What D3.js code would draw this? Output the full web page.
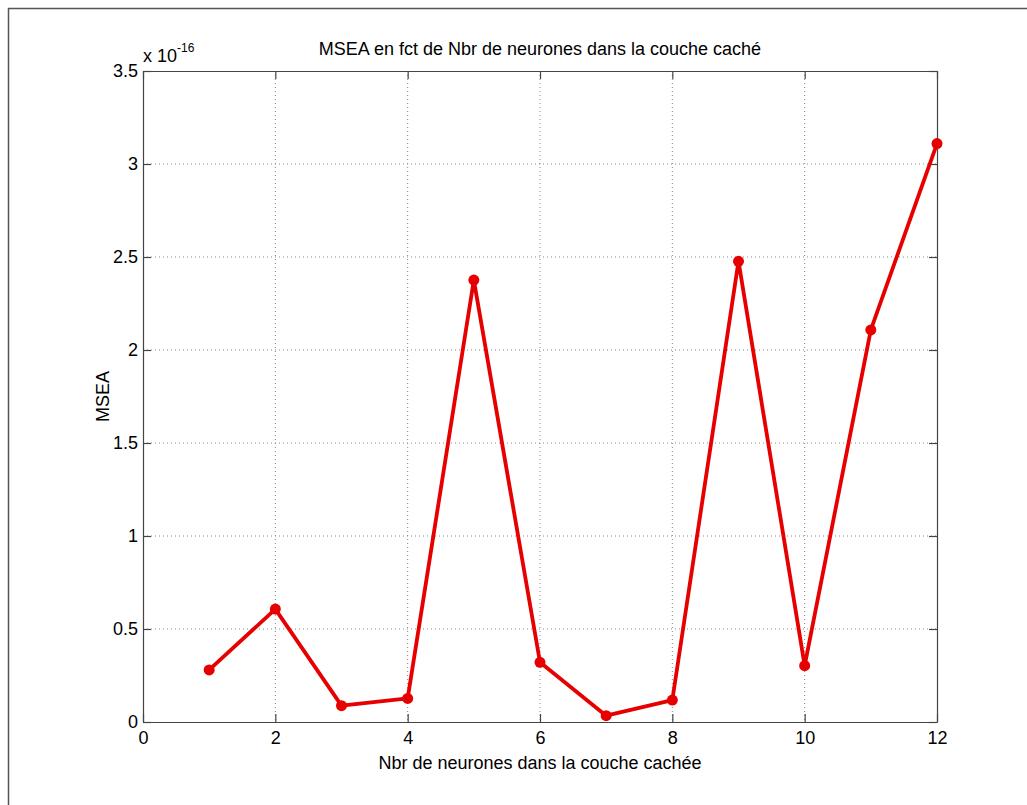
<!DOCTYPE html>
<html>
<head>
<meta charset="utf-8">
<script src="https://cdn.jsdelivr.net/npm/d3@7"></script>
<style>
  html, body { margin: 0; padding: 0; background: #fff; }
  svg { display: block; font-family: Arial, "Liberation Sans", sans-serif; }
</style>
</head>
<body>
<div id="chart"></div>
<script>
// neurones in hidden layer vs MSEA (values in units of 1e-16)
const neurons = [1, 2, 3, 4, 5, 6, 7, 8, 9, 10, 11, 12];
const msea = [0.28, 0.607, 0.088, 0.127, 2.376, 0.321, 0.034, 0.118, 2.477, 0.303, 2.108, 3.11];
const xTicks = [0, 2, 4, 6, 8, 10, 12];
const yTicks = [0, 0.5, 1, 1.5, 2, 2.5, 3, 3.5];

const W = 1027, H = 805;
const margin = { left: 143, top: 71, right: 90, bottom: 83 };
const plotW = W - margin.left - margin.right;
const plotH = H - margin.top - margin.bottom;
const red = '#e60000';
const axisColor = '#444';

const svg = d3.select('#chart')
  .append('svg')
  .attr('width', W)
  .attr('height', H);

// figure frame (right/bottom edges fall outside the window)
svg.append('rect')
  .attr('x', 8.5).attr('y', 8.5)
  .attr('width', W + 10).attr('height', H + 10)
  .attr('fill', 'none')
  .attr('stroke', '#555')
  .attr('stroke-width', 1.5);

const g = svg.append('g')
  .attr('transform', `translate(${margin.left},${margin.top})`);

const x = d3.scaleLinear().domain([0, 12]).range([0, plotW]);
const y = d3.scaleLinear().domain([0, 3.5]).range([plotH, 0]);

// dotted grid
g.append('g')
  .selectAll('line')
  .data(xTicks.slice(1, -1))
  .enter()
  .append('line')
  .attr('x1', d => x(d)).attr('x2', d => x(d))
  .attr('y1', 0).attr('y2', plotH)
  .attr('stroke', '#888')
  .attr('stroke-width', 1)
  .attr('stroke-dasharray', '1,3');
g.append('g')
  .selectAll('line')
  .data(yTicks.slice(1, -1))
  .enter()
  .append('line')
  .attr('y1', d => y(d)).attr('y2', d => y(d))
  .attr('x1', 0).attr('x2', plotW)
  .attr('stroke', '#888')
  .attr('stroke-width', 1)
  .attr('stroke-dasharray', '1,3');

// axes with inward ticks on all four sides
const tickLen = 8;
const styleAxis = sel => {
  sel.select('.domain').attr('stroke', axisColor).attr('stroke-width', 1.2);
  sel.selectAll('.tick line').attr('stroke', axisColor).attr('stroke-width', 1.2);
  sel.selectAll('.tick text')
    .attr('fill', '#000')
    .style('font-size', '18px');
};

const xBottom = g.append('g')
  .attr('transform', `translate(0,${plotH})`)
  .call(d3.axisBottom(x).tickValues(xTicks).tickFormat(d3.format('d'))
    .tickSizeInner(-tickLen).tickSizeOuter(0).tickPadding(9));
styleAxis(xBottom);

const xTop = g.append('g')
  .call(d3.axisTop(x).tickValues(xTicks).tickFormat('')
    .tickSizeInner(-tickLen).tickSizeOuter(0));
styleAxis(xTop);

const yLeft = g.append('g')
  .call(d3.axisLeft(y).tickValues(yTicks).tickFormat(d3.format('~g'))
    .tickSizeInner(-tickLen).tickSizeOuter(0).tickPadding(5));
styleAxis(yLeft);

const yRight = g.append('g')
  .attr('transform', `translate(${plotW},0)`)
  .call(d3.axisRight(y).tickValues(yTicks).tickFormat('')
    .tickSizeInner(-tickLen).tickSizeOuter(0));
styleAxis(yRight);

// exponent label
const expo = g.append('text')
  .attr('x', 0).attr('y', -9)
  .style('font-size', '18px');
expo.append('tspan').text('x 10');
expo.append('tspan')
  .attr('dy', -10)
  .style('font-size', '12px')
  .text('-16');

// line and markers
const line = d3.line()
  .x((d, i) => x(neurons[i]))
  .y(d => y(d));

g.append('path')
  .datum(msea)
  .attr('d', line)
  .attr('fill', 'none')
  .attr('stroke', red)
  .attr('stroke-width', 3.8)
  .attr('stroke-linejoin', 'round');

g.append('g')
  .selectAll('circle')
  .data(msea)
  .enter()
  .append('circle')
  .attr('cx', (d, i) => x(neurons[i]))
  .attr('cy', d => y(d))
  .attr('r', 5.5)
  .attr('fill', red);

// title and axis labels
g.append('text')
  .attr('x', plotW / 2).attr('y', -16)
  .attr('text-anchor', 'middle')
  .style('font-size', '18px')
  .text('MSEA en fct de Nbr de neurones dans la couche caché');

g.append('text')
  .attr('x', plotW / 2).attr('y', plotH + 47)
  .attr('text-anchor', 'middle')
  .style('font-size', '18px')
  .text('Nbr de neurones dans la couche cachée');

g.append('text')
  .attr('transform', `translate(-34,${plotH / 2}) rotate(-90)`)
  .attr('text-anchor', 'middle')
  .style('font-size', '18px')
  .text('MSEA');
</script>
</body>
</html>
